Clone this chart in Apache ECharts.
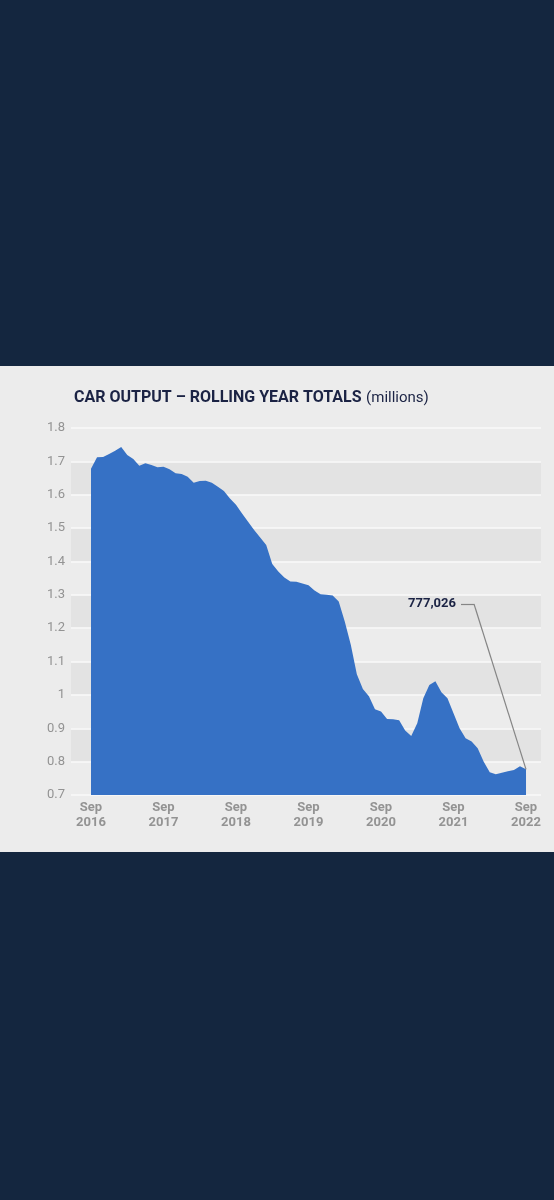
<!DOCTYPE html>
<html>
<head>
<meta charset="utf-8">
<script src="https://cdn.jsdelivr.net/npm/echarts@6/dist/echarts.min.js"></script>
<style>
  html, body { margin: 0; padding: 0; background: #14263f; width: 554px; height: 1200px; overflow: hidden; }
  #panel { position: absolute; left: 0; top: 366px; width: 554px; height: 486px; background: #ececec; }
  #chart { width: 554px; height: 486px; }
</style>
</head>
<body>
<div id="panel"><div id="chart"></div></div>
<script>
// monthly rolling-year car output, Sep 2016 .. Sep 2022 (millions)
var carOutput = [
  1.678, 1.712, 1.713, 1.722, 1.732, 1.743, 1.719, 1.707, 1.687, 1.694, 1.689, 1.682,
  1.684, 1.676, 1.664, 1.662, 1.654, 1.636, 1.641, 1.642, 1.636, 1.624, 1.611, 1.589,
  1.570, 1.544, 1.519, 1.494, 1.472, 1.449, 1.392, 1.370, 1.352, 1.340, 1.339, 1.334,
  1.329, 1.313, 1.302, 1.300, 1.298, 1.280, 1.220, 1.150, 1.062, 1.018, 0.996, 0.957,
  0.950, 0.928, 0.927, 0.924, 0.893, 0.877, 0.915, 0.990, 1.030, 1.041, 1.008, 0.990,
  0.945, 0.900, 0.870, 0.860, 0.840, 0.800, 0.768, 0.762, 0.767, 0.771, 0.775, 0.786,
  0.777
];

var xTickPos = [0, 12, 24, 36, 48, 60, 72];
var xTickLabels = ['Sep\n2016', 'Sep\n2017', 'Sep\n2018', 'Sep\n2019', 'Sep\n2020', 'Sep\n2021', 'Sep\n2022'];
var lastLabel = '777,026';

var chart = echarts.init(document.getElementById('chart'));

var seriesData = [];
for (var i = 0; i < carOutput.length; i++) {
  seriesData.push([i, carOutput[i]]);
}
var lastIdx = carOutput.length - 1;

var option = {
  animation: false,
  textStyle: { fontFamily: 'Roboto' },
  title: {
    left: 69,
    top: 18,
    text: '{b|CAR OUTPUT – ROLLING YEAR TOTALS} {n|(millions)}',
    textStyle: {
      rich: {
        b: { fontFamily: 'Roboto', fontWeight: 'bold', fontSize: 16, color: '#1b2344' },
        n: { fontFamily: 'Roboto', fontWeight: 'normal', fontSize: 15, color: '#1b2344' }
      }
    }
  },
  grid: { left: 71, right: 13, top: 62, bottom: 57 },
  xAxis: {
    type: 'value',
    min: -3.31,
    max: 74.48,
    axisLine: { show: false },
    axisTick: { show: false },
    splitLine: { show: false },
    axisLabel: {
      customValues: xTickPos,
      formatter: function (v) {
        return xTickLabels[Math.round(v / 12)] || '';
      },
      color: '#939393',
      fontSize: 13,
      fontWeight: 'bold',
      lineHeight: 15,
      margin: 5
    }
  },
  yAxis: {
    type: 'value',
    min: 0.7,
    max: 1.8,
    interval: 0.1,
    axisLine: { show: false },
    axisTick: { show: false },
    axisLabel: { color: '#939393', fontSize: 13, margin: 6 },
    splitLine: { lineStyle: { color: '#fafafa', width: 1.5 } },
    splitArea: { show: true, areaStyle: { color: ['#ececec', '#e3e3e3'] } }
  },
  series: [{
    type: 'line',
    data: seriesData,
    showSymbol: false,
    lineStyle: { width: 0 },
    areaStyle: { color: '#3671c5', opacity: 1, origin: 'start' },
    markLine: {
      silent: true,
      symbol: 'none',
      lineStyle: { color: '#858585', width: 1.2, type: 'solid' },
      label: { show: false },
      data: [
        [{ coord: [lastIdx, carOutput[lastIdx]] }, { x: 474, y: 238 }],
        [{ x: 474, y: 238 }, {
          x: 461, y: 238,
          label: {
            show: true,
            position: 'end',
            distance: 5,
            formatter: lastLabel,
            color: '#1b2344',
            fontWeight: 'bold',
            fontSize: 13
          }
        }]
      ]
    }
  }]
};

chart.setOption(option);
</script>
</body>
</html>
